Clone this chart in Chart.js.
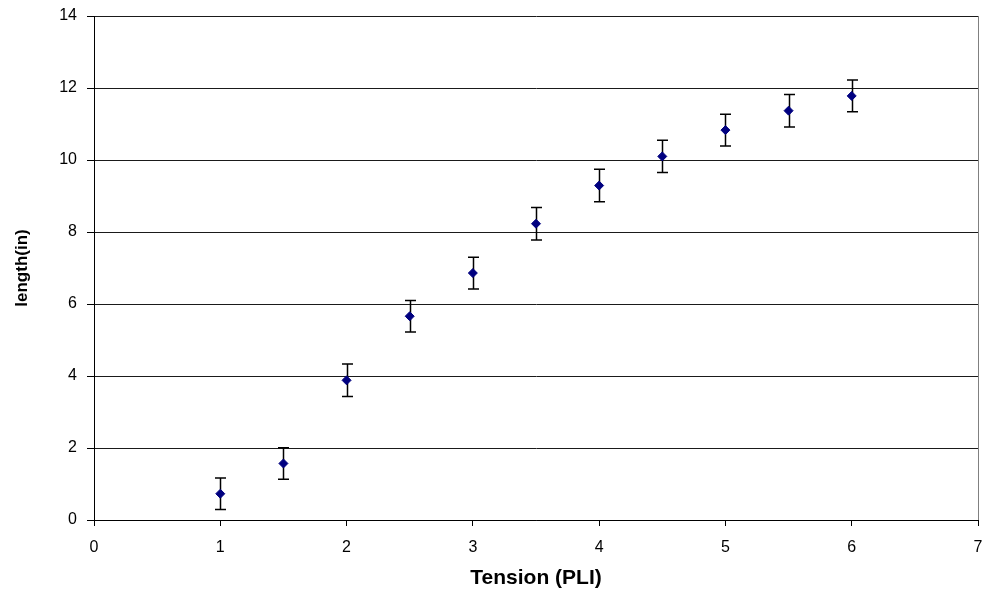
<!DOCTYPE html>
<html>
<head>
<meta charset="utf-8">
<script src="https://cdn.jsdelivr.net/npm/chart.js@4/dist/chart.umd.min.js"></script>
<style>
  html, body { margin: 0; padding: 0; background: #fff; }
  #wrap { width: 984px; height: 594px; }
</style>
</head>
<body>
<div id="wrap"><canvas id="tension-chart" width="984" height="594"></canvas></div>
<script>
//Tension values (PLI)
const tension = [1, 1.5, 2, 2.5, 3, 3.5, 4, 4.5, 5, 5.5, 6];
//Measured length (in)
const length = [0.73, 1.57, 3.88, 5.66, 6.86, 8.23, 9.29, 10.1, 10.83, 11.37, 11.78];
//Error bar half-heights
const lengthError = [0.44, 0.44, 0.45, 0.44, 0.44, 0.45, 0.45, 0.45, 0.44, 0.45, 0.44];

const points = tension.map((t, i) => ({ x: t, y: length[i] }));

//Draw vertical error bars with caps under the markers
const errorBars = {
  id: "errorBars",
  beforeDatasetsDraw(chart) {
    const ctx = chart.ctx;
    const xScale = chart.scales.x;
    const yScale = chart.scales.y;
    ctx.save();
    ctx.strokeStyle = "#000";
    ctx.lineWidth = 1.5;
    for (let i in tension) {
      const x = Math.round(xScale.getPixelForValue(tension[i])) + 0.5;
      const top = yScale.getPixelForValue(length[i] + lengthError[i]);
      const bottom = yScale.getPixelForValue(length[i] - lengthError[i]);
      ctx.beginPath();
      ctx.moveTo(x, top);
      ctx.lineTo(x, bottom);
      ctx.moveTo(x - 5.5, top);
      ctx.lineTo(x + 5.5, top);
      ctx.moveTo(x - 5.5, bottom);
      ctx.lineTo(x + 5.5, bottom);
      ctx.stroke();
    }
    ctx.restore();
  },
};

Chart.defaults.font.family = "'Liberation Sans', Arial, sans-serif";
Chart.defaults.color = "#000";

const ctx = document.getElementById("tension-chart").getContext("2d");
const chart = new Chart(ctx, {
  type: "scatter",
  data: {
    datasets: [
      {
        label: "length",
        data: points,
        pointStyle: "rectRot",
        pointRadius: 4.5,
        borderWidth: 1,
        borderColor: "#000080",
        backgroundColor: "#000080",
        showLine: false,
      },
    ],
  },
  options: {
    responsive: false,
    animation: false,
    layout: {
      padding: { top: 16, right: 6, bottom: 0, left: 0 },
    },
    plugins: {
      legend: { display: false },
      tooltip: { enabled: false },
    },
    scales: {
      x: {
        type: "linear",
        min: 0,
        max: 7,
        ticks: {
          stepSize: 1,
          padding: 12,
          font: { size: 16 },
        },
        grid: {
          color: (c) => (c.tick && c.tick.value === 7 ? "#808080" : "transparent"),
          tickColor: "#000",
          tickLength: 6,
        },
        border: { color: "#000", width: 1 },
        title: {
          display: true,
          text: "Tension (PLI)",
          font: { size: 21, weight: "bold" },
          padding: { top: 0, bottom: 3 },
        },
        afterFit(scale) {
          scale.height = 74;
          scale.paddingLeft = 0;
          scale.paddingRight = 0;
        },
      },
      y: {
        min: 0,
        max: 14,
        ticks: {
          stepSize: 2,
          padding: 10,
          font: { size: 16 },
        },
        grid: {
          color: "#1a1a1a",
          tickColor: "#000",
          tickLength: 7,
        },
        border: { color: "#000", width: 1 },
        title: {
          display: true,
          text: "length(in)",
          font: { size: 17, weight: "bold" },
          padding: { top: 12, bottom: 0 },
        },
        afterFit(scale) {
          scale.width = 94;
          scale.paddingTop = 0;
          scale.paddingBottom = 0;
        },
      },
    },
  },
  plugins: [errorBars],
});
</script>
</body>
</html>
